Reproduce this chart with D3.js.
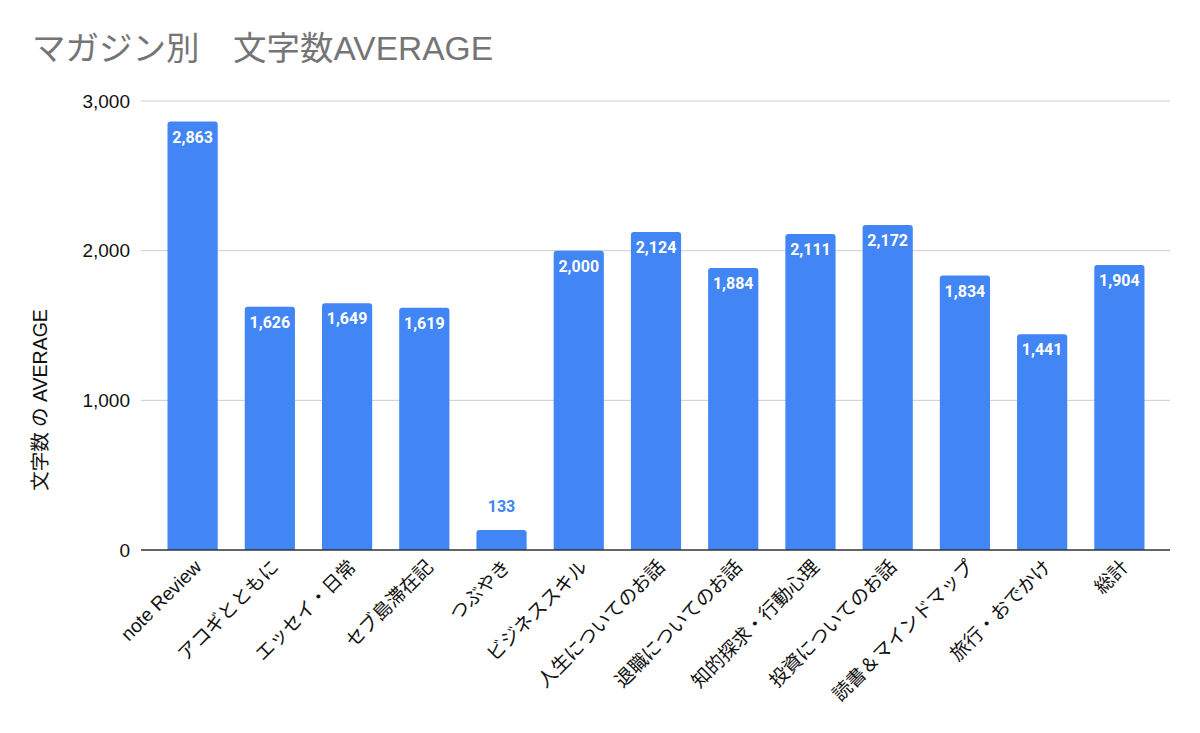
<!DOCTYPE html>
<html><head><meta charset="utf-8">
<script src="https://cdn.jsdelivr.net/npm/d3@7/dist/d3.min.js"></script>
<style>body{margin:0;background:#fff}svg{display:block}</style>
</head><body>
<script>
const categories = ["note Review","アコギとともに","エッセイ・日常","セブ島滞在記","つぶやき","ビジネススキル","人生についてのお話","退職についてのお話","知的探求・行動心理","投資についてのお話","読書＆マインドマップ","旅行・おでかけ","総計"];
const values = [2863,1626,1649,1619,133,2000,2124,1884,2111,2172,1834,1441,1904];
const yTicks = [0,1000,2000,3000];

const W=1200,H=733;
const font = "'Liberation Sans', Arial, 'Noto Sans CJK JP', sans-serif";
const labFont = "Roboto, 'Liberation Sans', sans-serif";
const svg = d3.select("body").append("svg").attr("width",W).attr("height",H).style("font-family",font);

const x = d3.scaleBand().domain(categories).range([154,1158]).paddingInner(0.35).paddingOuter(0.175);
const y = d3.scaleLinear().domain([0,3000]).range([550,101]);

svg.append("text").attr("x",32).attr("y",60).attr("font-size",33.5).attr("fill","#757575").text("マガジン別　文字数AVERAGE");

// gridlines
svg.append("g").selectAll("line").data(yTicks.filter(d=>d>0)).join("line")
  .attr("x1",141).attr("x2",1170).attr("y1",d=>y(d)).attr("y2",d=>y(d))
  .attr("stroke","#cccccc").attr("stroke-width",1);

// y axis labels
const yAxis = d3.axisLeft(y).tickValues(yTicks).tickFormat(d3.format(",")).tickSize(0).tickPadding(0);
const ga = svg.append("g").attr("transform","translate(130,0)").call(yAxis);
ga.select(".domain").remove();
ga.selectAll("text").attr("font-size",19).attr("fill","#111").style("font-family",font);

svg.append("text").attr("transform","translate(47,400) rotate(-90)").attr("text-anchor","middle")
  .attr("font-size",19.5).attr("fill","#111").text("文字数 の AVERAGE");

// bars
const bw = x.bandwidth(), r=3;
svg.append("g").selectAll("path").data(values).join("path")
  .attr("fill","#4285F4")
  .attr("d",(d,i)=>{
    const x0=x(categories[i]), y0=y(d), y1=y(0);
    return `M${x0},${y1}V${y0+r}Q${x0},${y0} ${x0+r},${y0}H${x0+bw-r}Q${x0+bw},${y0} ${x0+bw},${y0+r}V${y1}Z`;
  });

// value labels
svg.append("g").selectAll("text").data(values).join("text")
  .attr("x",(d,i)=>x(categories[i])+bw/2)
  .attr("y",d=> (y(0)-y(d))>40 ? y(d)+21 : y(d)-18)
  .attr("text-anchor","middle").attr("font-size",16).attr("font-weight","bold")
  .style("font-family",labFont)
  .attr("fill",d=> (y(0)-y(d))>40 ? "#ffffff" : "#4285F4")
  .text(d=>d3.format(",")(d));

// baseline
svg.append("line").attr("x1",141).attr("x2",1170).attr("y1",y(0)).attr("y2",y(0)).attr("stroke","#333").attr("stroke-width",1.5);

// x labels
const xAxis = d3.axisBottom(x).tickSize(0).tickPadding(0);
const gx = svg.append("g").attr("transform",`translate(0,${y(0)})`).call(xAxis);
gx.select(".domain").remove();
gx.selectAll("text").attr("font-size",19).attr("fill","#111").style("font-family",font)
  .attr("text-anchor","end").attr("dy",null).attr("y",0)
  .attr("transform","translate(10,18) rotate(-45)");
</script>
</body></html>
